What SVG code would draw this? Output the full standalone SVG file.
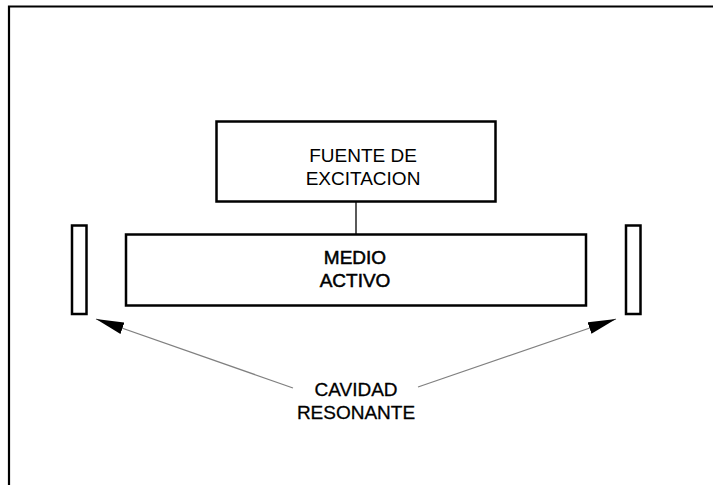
<svg xmlns="http://www.w3.org/2000/svg" width="713" height="485" viewBox="0 0 713 485">
<style>
.box{fill:#fff;stroke:#000;stroke-width:2.5}
.t{font-family:"Liberation Sans",Arial,sans-serif;font-size:19px;fill:#000;text-anchor:middle}
.h{stroke:#000;stroke-width:0.5}
.m{stroke:#000;stroke-width:0.3}
.arr{stroke:#808080;stroke-width:1.3;fill:none}
.link{stroke:#000;stroke-width:1.3;fill:none}
</style>
<defs>
<marker id="ah" markerUnits="userSpaceOnUse" markerWidth="30" markerHeight="13" refX="28" refY="6" orient="auto">
<path d="M0,0 L28,6 L0,12 Z" fill="#000"/>
</marker>
</defs>
<rect width="713" height="485" fill="#fff"/>
<path d="M9,485 V6.5 H713" fill="none" stroke="#000" stroke-width="2.2"/>
<g id="connectors">
<line class="link" x1="356" y1="201" x2="356" y2="234"/>
<line class="arr" x1="293" y1="388" x2="96" y2="319" marker-end="url(#ah)"/>
<line class="arr" x1="418" y1="387" x2="616" y2="319" marker-end="url(#ah)"/>
</g>
<g id="fuente">
<rect class="box" x="216.5" y="121.5" width="279" height="80"/>
<text class="t" x="363" y="161.5">FUENTE DE</text>
<text class="t" x="363" y="184.5">EXCITACION</text>
</g>
<g id="medio">
<rect class="box" x="126" y="234.5" width="460" height="71"/>
<text class="t h" x="355" y="263.5">MEDIO</text>
<text class="t h" x="355" y="286.5">ACTIVO</text>
</g>
<g id="espejo-izq">
<rect class="box" x="72" y="225.5" width="14.5" height="88.5"/>
</g>
<g id="espejo-der">
<rect class="box" x="626" y="225.5" width="14.5" height="88.5"/>
</g>
<g id="cavidad">
<text class="t m" x="356" y="396">CAVIDAD</text>
<text class="t m" x="356" y="419">RESONANTE</text>
</g>
</svg>
